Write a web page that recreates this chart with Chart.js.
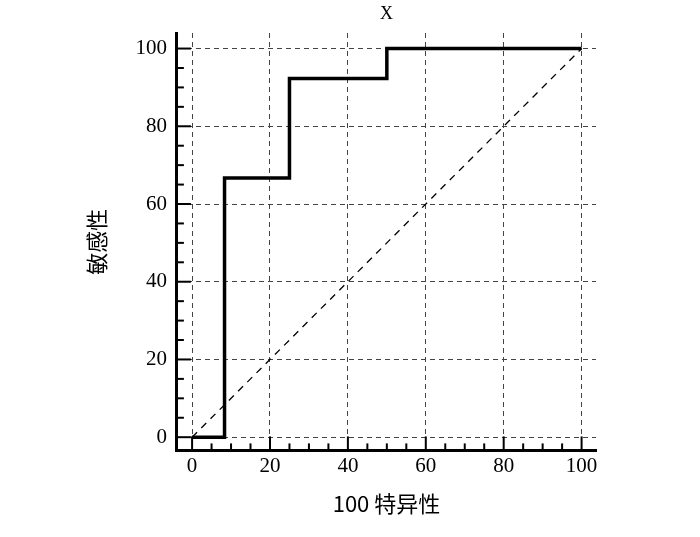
<!DOCTYPE html>
<html><head><meta charset="utf-8">
<script src="https://cdn.jsdelivr.net/npm/chart.js@4"></script>
<style>html,body{margin:0;padding:0;background:#fff}canvas{display:block}</style>
</head><body>
<canvas id="c" width="700" height="537"></canvas>
<script>
const chartTitle = 'X';
const xTitle = '100 特异性';
const yTitle = '敏感性';
const rocX = [0, 8.33, 25, 50, 100];
const rocY = [0, 66.7, 92.3, 100, 100];
const diagX = [0, 100];
const diagY = [0, 100];
const majorTicks = [0, 20, 40, 60, 80, 100];
const minorTicks = [];
for (let v = 0; v <= 100; v += 5) minorTicks.push(v);

const tickPlugin = {
  id: 'inTicks',
  afterDatasetsDraw(chart) {
    const ctx = chart.ctx, a = chart.chartArea;
    const xs = chart.scales.x, ys = chart.scales.y;
    ctx.save();
    ctx.strokeStyle = '#000';
    ctx.lineWidth = 2;
    minorTicks.forEach(v => {
      const major = v % 20 === 0;
      const len = major ? 14 : 7;
      const px = xs.getPixelForValue(v);
      ctx.beginPath(); ctx.moveTo(px, a.bottom); ctx.lineTo(px, a.bottom - len); ctx.stroke();
      const py = ys.getPixelForValue(v);
      ctx.beginPath(); ctx.moveTo(a.left, py); ctx.lineTo(a.left + len, py); ctx.stroke();
    });
    ctx.fillStyle = '#000';
    ctx.font = '18px "Liberation Serif"';
    ctx.textAlign = 'center';
    ctx.textBaseline = 'middle';
    ctx.fillText(chartTitle, (a.left + a.right) / 2, 14);
    ctx.restore();
  }
};

const gridCfg = { color: '#444', lineWidth: 1, drawTicks: false };
new Chart(document.getElementById('c'), {
  type: 'scatter',
  data: {
    datasets: [
      { data: rocX.map((x, i) => ({x, y: rocY[i]})), showLine: true, stepped: 'before',
        borderColor: '#000', borderWidth: 3.5, pointRadius: 0, fill: false },
      { data: diagX.map((x, i) => ({x, y: diagY[i]})), showLine: true,
        borderColor: '#000', borderWidth: 1.3, borderDash: [7, 6], pointRadius: 0, fill: false }
    ]
  },
  options: {
    responsive: false, animation: false,
    layout: { padding: { top: 33, right: 104, bottom: 16, left: 79 } },
    plugins: { legend: { display: false }, tooltip: { enabled: false } },
    scales: {
      x: { type: 'linear', min: -3.9, max: 103.7,
        afterBuildTicks: s => { s.ticks = majorTicks.map(v => ({value: v})); },
        grid: { ...gridCfg }, border: { display: true, color: '#000', width: 3, dash: [5, 4] },
        ticks: { color: '#000', font: { family: 'Liberation Serif', size: 21 }, padding: 3 },
        title: { display: true, text: xTitle, color: '#000', font: { family: 'Noto Sans CJK SC', size: 22 }, padding: { top: 9 } }
      },
      y: { type: 'linear', min: -3.4, max: 104,
        afterBuildTicks: s => { s.ticks = majorTicks.map(v => ({value: v})); },
        grid: { ...gridCfg }, border: { display: true, color: '#000', width: 3, dash: [5, 4] },
        ticks: { color: '#000', font: { family: 'Liberation Serif', size: 21 }, padding: 10 },
        title: { display: true, text: yTitle, color: '#000', font: { family: 'Noto Sans CJK SC', size: 22 }, padding: { bottom: 16 } }
      }
    }
  },
  plugins: [tickPlugin]
});
</script>
</body></html>
